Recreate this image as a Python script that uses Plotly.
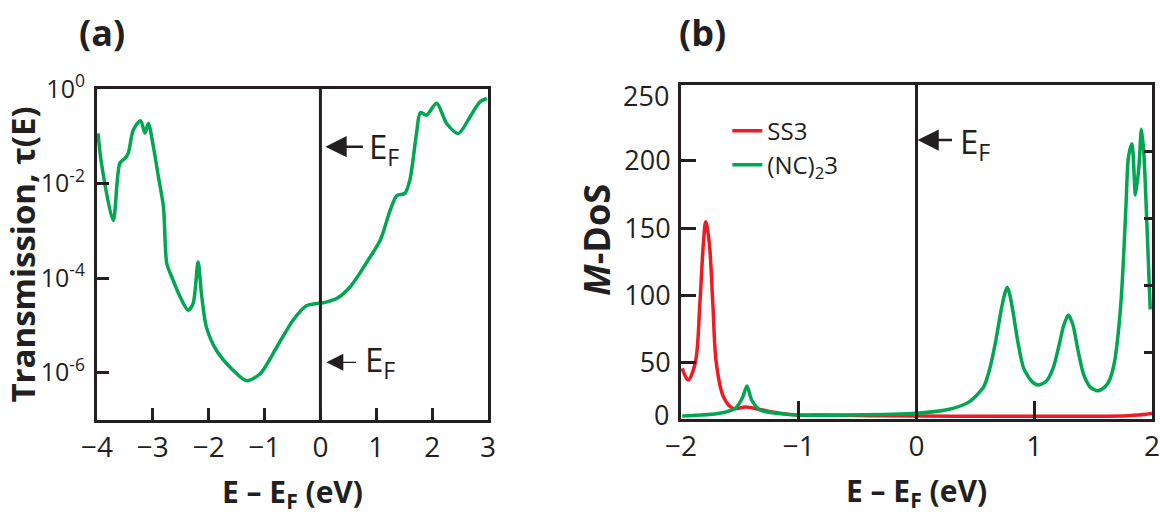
import plotly.graph_objects as go

# ---------------- data ----------------
# (a) transmission vs E - EF
E_a = [-3.98, -3.92, -3.71, -3.59, -3.50, -3.44, -3.35, -3.22, -3.14, -3.08, -2.99, -2.90,
       -2.81, -2.75, -2.66, -2.51, -2.37, -2.28, -2.19, -2.13, -2.04, -1.86, -1.56, -1.32,
       -1.08, -0.78, -0.49, -0.25, -0.01, 0.01, 0.29, 0.53, 0.89, 1.07, 1.25, 1.37, 1.51,
       1.60, 1.72, 1.79, 1.90, 2.08, 2.26, 2.47, 2.68, 2.86, 2.98]
T_a = [1.15e-1, 2.7e-2, 1.66e-3, 2.7e-2, 3.4e-2, 4.4e-2, 1.35e-1, 2.14e-1, 1.17e-1, 1.86e-1,
       6.0e-2, 1.38e-2, 3.2e-3, 2.04e-4, 1.05e-4, 4.0e-5, 2.1e-5, 2.9e-5, 2.2e-4, 4.7e-5,
       9.1e-6, 2.95e-6, 1.12e-6, 6.8e-7, 9.5e-7, 3.5e-6, 1.29e-5, 2.6e-5, 2.95e-5, 2.95e-5,
       3.7e-5, 6.5e-5, 2.8e-4, 6.3e-4, 2.75e-3, 5.6e-3, 6.2e-3, 1.17e-2, 1.15e-1, 3.16e-1,
       2.8e-1, 5.0e-1, 1.86e-1, 1.15e-1, 2.6e-1, 5.4e-1, 6.3e-1]

# (b) molecular density of states
E_ss3 = [-1.99, -1.94, -1.88, -1.84, -1.81, -1.79, -1.76, -1.73, -1.70, -1.64, -1.56, -1.45,
         -1.35, -1.24, -1.02, -0.77, -0.4, 0.0, 0.5, 1.0, 1.5, 1.8, 1.95, 2.0]
dos_ss3 = [37.9, 29.2, 41.7, 86.6, 131.5, 147.7, 131.5, 86.6, 41.7, 16.7, 8.0, 9.0,
           7.5, 5.5, 3.0, 3.0, 2.5, 2.2, 2.0, 2.0, 2.0, 2.5, 3.5, 4.3]

E_nc = [-1.99, -1.67, -1.54, -1.48, -1.44, -1.40, -1.33, -1.19, -1.0, -0.56, 0.0, 0.28,
        0.45, 0.57, 0.62, 0.67, 0.72, 0.75, 0.77, 0.79, 0.82, 0.86, 0.91, 0.98, 1.03, 1.10,
        1.16, 1.21, 1.25, 1.29, 1.33, 1.37, 1.42, 1.48, 1.54, 1.60, 1.64, 1.68, 1.71, 1.74,
        1.76, 1.78, 1.80, 1.83, 1.86, 1.89, 1.91, 1.93, 1.95, 1.985]
dos_nc = [2.2, 4.3, 8.0, 15.5, 24.7, 14.2, 6.7, 4.3, 3.0, 3.0, 4.3, 7.3,
          13.0, 24.0, 37.0, 57.0, 82.0, 94.0, 98.6, 94.0, 80.0, 58.0, 38.0, 28.0, 25.4, 28.0,
          38.0, 55.0, 70.0, 77.8, 70.0, 52.0, 33.0, 23.5, 21.2, 24.0, 29.2, 42.0, 61.6, 92.0,
          124.0, 162.0, 196.0, 206.0, 167.7, 190.0, 216.8, 200.0, 161.0, 82.0]

xticks_a = [-4, -3, -2, -1, 0, 1, 2, 3]
xticktext_a = ["\u22124", "\u22123", "\u22122", "\u22121", "0", "1", "2", "3"]
yticks_a = [1, 1e-2, 1e-4, 1e-6]
yticktext_a = ["10<sup>0</sup>", "10<sup>-2</sup>", "10<sup>-4</sup>", "10<sup>-6</sup>"]
xticks_b = [-2, -1, 0, 1, 2]
xticktext_b = ["\u22122", "\u22121", "0", "1", "2"]
# left tick marks of panel (b) as drawn in the figure (slightly offset from the right ones)
yticks_b_left = [42.2, 92.3, 142.9, 193.3]
yticktext_b_left = ["50", "100", "150", "200"]
yticks_b_right = [50, 100, 150, 200]
EF = 0

GREEN = "#00a651"
RED = "#ed1c24"
INK = "#231f20"
FONT = "Open Sans"

fig = go.Figure()
fig.add_trace(go.Scatter(x=E_a, y=T_a, mode="lines", line=dict(color=GREEN, width=3.5, shape="spline", smoothing=0.8),
                         showlegend=False, xaxis="x", yaxis="y"))
fig.add_trace(go.Scatter(x=E_ss3, y=dos_ss3, mode="lines", name="SS3",
                         line=dict(color=RED, width=3.5, shape="spline", smoothing=1.0),
                         xaxis="x2", yaxis="y2"))
fig.add_trace(go.Scatter(x=E_nc, y=dos_nc, mode="lines", name="(NC)<sub>2</sub>3",
                         line=dict(color=GREEN, width=3.5, shape="spline", smoothing=0.7),
                         xaxis="x2", yaxis="y2"))
fig.add_trace(go.Scatter(x=[None], y=[None], mode="lines", showlegend=False, hoverinfo="skip",
                         xaxis="x2", yaxis="y3"))

axis_common = dict(showline=True, linecolor=INK, linewidth=3, mirror=True, showgrid=False,
                   zeroline=False, ticks="inside", tickcolor=INK, tickwidth=2.5, automargin=False,
                   ticklabeloverflow="allow")

fig.update_layout(
    width=1160, height=517, margin=dict(l=0, r=0, t=0, b=0, autoexpand=False),
    paper_bgcolor="white", plot_bgcolor="white",
    font=dict(family=FONT, color=INK),
    xaxis=dict(domain=[0.0836, 0.4207], range=[-4, 3], tickvals=xticks_a, ticktext=xticktext_a,
               ticklen=12, tickfont=dict(size=28), anchor="y",
               title=dict(text="<b>E \u2013 E<sub>F</sub> (eV)</b>", font=dict(size=30), standoff=19),
               **axis_common),
    yaxis=dict(domain=[0.1876, 0.8279], type="log", range=[-7, 0], tickvals=yticks_a,
               ticktext=yticktext_a, ticklen=12, tickfont=dict(size=25), anchor="x",
               ticklabelstandoff=4,
               title=dict(text="<b>Transmission, \u03c4(E)</b>", font=dict(size=33), standoff=4),
               **axis_common),
    xaxis2=dict(domain=[0.5871, 0.9931], range=[-2, 2], tickvals=xticks_b, ticktext=xticktext_b,
                ticklen=18, tickfont=dict(size=28), anchor="y2",
                title=dict(text="<b>E \u2013 E<sub>F</sub> (eV)</b>", font=dict(size=30), standoff=19),
                **axis_common),
    yaxis2=dict(domain=[0.1896, 0.8356], range=[0, 250], tickvals=yticks_b_left,
                ticktext=yticktext_b_left, ticklen=15, tickfont=dict(size=27), anchor="x2",
                ticklabelstandoff=2,
                **axis_common),
    yaxis3=dict(overlaying="y2", side="right", anchor="x2", range=[0, 250], tickvals=yticks_b_right,
                showticklabels=False, ticks="inside", ticklen=8, tickwidth=2.5, tickcolor=INK,
                showgrid=False, zeroline=False, showline=False, automargin=False),
    legend=dict(x=0.627, y=0.79, xanchor="left", yanchor="top", bgcolor="rgba(0,0,0,0)",
                font=dict(size=24, family=FONT, color=INK), tracegroupgap=0),
)

# Fermi level lines
fig.add_shape(type="line", xref="x", yref="y domain", x0=EF, x1=EF, y0=0, y1=1,
              line=dict(color=INK, width=3))
fig.add_shape(type="line", xref="x2", yref="y2 domain", x0=EF, x1=EF, y0=0, y1=1,
              line=dict(color=INK, width=3))

# Arrows
fig.add_annotation(x=EF, y=-1.22, xref="x", yref="y", ax=44, ay=0, showarrow=True, arrowhead=2,
                   arrowsize=1.7, arrowwidth=2.5, arrowcolor=INK, standoff=5, text="")
fig.add_annotation(x=EF, y=-5.78, xref="x", yref="y", ax=37, ay=0, showarrow=True, arrowhead=2,
                   arrowsize=2.6, arrowwidth=1.3, arrowcolor=INK, standoff=6, text="")
fig.add_annotation(x=EF, y=208.8, xref="x2", yref="y2", ax=37, ay=0, showarrow=True, arrowhead=2,
                   arrowsize=1.7, arrowwidth=2.5, arrowcolor=INK, standoff=1, text="")

# E_F labels
for xr, yr, yv, dx, dy in [("x", "y", -1.22, 47, -2), ("x", "y", -5.78, 43, 1),
                           ("x2", "y2", 208.8, 41, -3)]:
    fig.add_annotation(x=EF, y=yv, xref=xr, yref=yr, xshift=dx, yshift=dy, showarrow=False,
                       xanchor="left", yanchor="middle", text="E<sub>F</sub>",
                       font=dict(size=33, family=FONT, color=INK))

# extra tick labels of panel (b)
fig.add_annotation(x=0, y=3, xref="x2 domain", yref="y2", xanchor="right", yanchor="middle",
                   xshift=-10, showarrow=False, text="0", font=dict(size=27, family=FONT, color=INK))
fig.add_annotation(x=0, y=242.5, xref="x2 domain", yref="y2", xanchor="right", yanchor="middle",
                   xshift=-10, showarrow=False, text="250", font=dict(size=27, family=FONT, color=INK))

# y title of panel (b)
fig.add_annotation(x=597 / 1160, y=1 - 240 / 517, xref="paper", yref="paper", showarrow=False,
                   xanchor="center", yanchor="middle", textangle=-90,
                   text="<b><i>M</i>-DoS</b>", font=dict(size=36, family=FONT, color=INK))

# panel letters
fig.add_annotation(x=102 / 1160, y=1 - 33 / 517, xref="paper", yref="paper", showarrow=False,
                   xanchor="center", yanchor="middle",
                   text="<b>(a)</b>", font=dict(size=36, family=FONT, color=INK))
fig.add_annotation(x=702 / 1160, y=1 - 33 / 517, xref="paper", yref="paper", showarrow=False,
                   xanchor="center", yanchor="middle",
                   text="<b>(b)</b>", font=dict(size=36, family=FONT, color=INK))

fig.write_html("out.html")
